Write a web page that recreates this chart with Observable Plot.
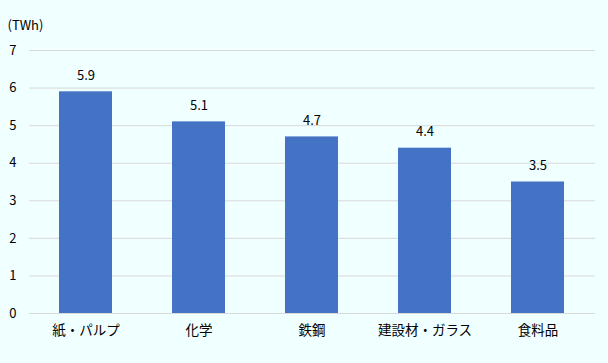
<!DOCTYPE html>
<html><head><meta charset="utf-8">
<script src="https://cdn.jsdelivr.net/npm/d3@7"></script>
<script src="https://cdn.jsdelivr.net/npm/@observablehq/plot@0.6"></script>
<style>
html,body{margin:0;padding:0;background:#F0FFFF;}
#chart svg{display:block;}
</style>
</head><body><div id="chart"></div>
<script>
const categories = ["紙・パルプ", "化学", "鉄鋼", "建設材・ガラス", "食料品"];
const values = [5.9, 5.1, 4.7, 4.4, 3.5];
const yTicks = [0, 1, 2, 3, 4, 5, 6, 7];
const unitLabel = "(TWh)";

const data = categories.map((c, i) => ({cat: c, v: values[i]}));
const font = "'Noto Sans CJK JP', 'Noto Sans', sans-serif";

const chart = Plot.plot({
  width: 608,
  height: 363,
  marginTop: 50,
  marginBottom: 50,
  marginLeft: 29,
  marginRight: 13,
  style: {background: "#F0FFFF", fontFamily: font, fontSize: "13px", color: "#000"},
  x: {domain: categories, paddingInner: 0.53, paddingOuter: 0.265, label: null},
  y: {domain: [0, 7], label: null},
  marks: [
    Plot.gridY(yTicks, {stroke: "#d9d9d9", strokeOpacity: 1, strokeWidth: 1}),
    Plot.barY(data, {x: "cat", y: "v", fill: "#4472C4"}),
    Plot.axisY(yTicks, {tickSize: 0, tickPadding: 13, fontSize: 13, textAnchor: "end", tickFormat: d => String(d)}),
    Plot.axisX({tickSize: 0, tickPadding: 12, fontSize: 13.5}),
    Plot.text(data, {x: "cat", y: "v", text: d => d.v.toFixed(1), dy: -16, fontSize: 13, fill: "#000"}),
    Plot.text([unitLabel], {frameAnchor: "top-left", dx: -22, dy: -30, textAnchor: "start", fontSize: 13, fill: "#000"})
  ]
});
document.getElementById("chart").append(chart);
</script>
</body></html>
